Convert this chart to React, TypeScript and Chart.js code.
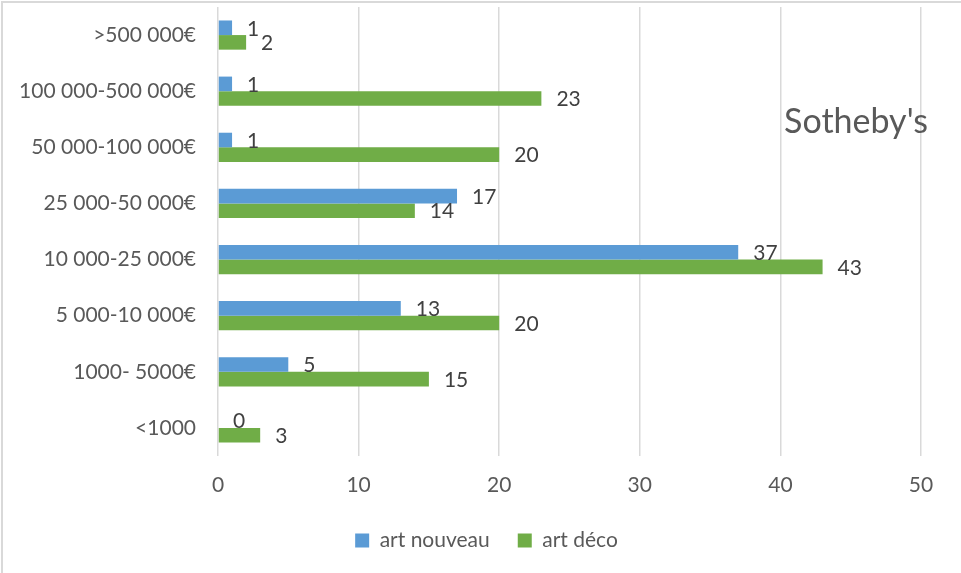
import React, { useEffect, useRef } from "react";
import { Chart, registerables } from "chart.js";

Chart.register(...registerables);

const categories = [
  ">500 000€",
  "100 000-500 000€",
  "50 000-100 000€",
  "25 000-50 000€",
  "10 000-25 000€",
  "5 000-10 000€",
  "1000- 5000€",
  "<1000",
];
const artNouveau = [1, 1, 1, 17, 37, 13, 5, 0];
const artDeco = [2, 23, 20, 14, 43, 20, 15, 3];
const seriesNames = ["art nouveau", "art déco"];
const seriesColors = ["#5B9BD5", "#70AD47"];
const xMin = 0;
const xMax = 50;
const xStep = 10;
const chartTitle = "Sotheby's";

const FONT = "Lato";

const dataLabelPlugin = {
  id: "dataLabels",
  afterDatasetsDraw(chart: any) {
    const ctx = chart.ctx;
    ctx.save();
    ctx.font = `21px ${FONT}`;
    ctx.fillStyle = "#404040";
    ctx.textAlign = "left";
    ctx.textBaseline = "middle";
    chart.data.datasets.forEach((ds: any, i: number) => {
      const meta = chart.getDatasetMeta(i);
      meta.data.forEach((el: any, j: number) => {
        ctx.fillText(String(ds.data[j]), el.x + 15, el.y + 1);
      });
    });
    ctx.restore();
  },
};

const titlePlugin = {
  id: "innerTitle",
  afterDraw(chart: any) {
    const ctx = chart.ctx;
    const a = chart.chartArea;
    ctx.save();
    ctx.font = `34px ${FONT}`;
    ctx.fillStyle = "#595959";
    ctx.textAlign = "right";
    ctx.textBaseline = "alphabetic";
    ctx.fillText(chartTitle, a.right + 7, a.top + 126);
    ctx.restore();
  },
};

// center the legend under the plot area like the original (shift right)
const legendShiftPlugin = {
  id: "legendShift",
  afterLayout(chart: any) {
    const lg = chart.legend;
    if (lg) {
      lg.left += 26;
      lg.right += 26;
    }
  },
};

export default function App() {
  const ref = useRef<HTMLCanvasElement>(null);
  useEffect(() => {
    document.body.style.margin = "0";
    const chart = new Chart(ref.current as HTMLCanvasElement, {
      type: "bar",
      data: {
        labels: categories,
        datasets: [
          { label: seriesNames[0], data: artNouveau, backgroundColor: seriesColors[0] },
          { label: seriesNames[1], data: artDeco, backgroundColor: seriesColors[1] },
        ],
      },
      options: {
        indexAxis: "y",
        animation: false,
        responsive: false,
        devicePixelRatio: 1,
        datasets: { bar: { categoryPercentage: 0.52, barPercentage: 1 } },
        layout: { padding: { top: 7, right: 40, left: 0, bottom: 12 } },
        scales: {
          x: {
            min: xMin,
            max: xMax,
            afterFit: (s: any) => {
              s.height = 46;
            },
            ticks: { stepSize: xStep, padding: 17, color: "#595959", font: { family: FONT, size: 21 } },
            grid: { color: "#d9d9d9", lineWidth: 1.5, drawTicks: false },
            border: { display: false },
          },
          y: {
            afterFit: (s: any) => {
              s.width = 218;
              s.paddingTop = 0;
              s.paddingBottom = 0;
            },
            ticks: { padding: 22, color: "#595959", font: { family: FONT, size: 21 } },
            grid: { display: false, drawTicks: false },
            border: { display: false },
          },
        },
        plugins: {
          legend: {
            position: "bottom",
            labels: {
              boxWidth: 14,
              boxHeight: 14,
              padding: 28,
              color: "#595959",
              font: { family: FONT, size: 21 },
            },
          },
          tooltip: { enabled: false },
          title: { display: false },
        },
      },
      plugins: [dataLabelPlugin, titlePlugin, legendShiftPlugin],
    });
    return () => chart.destroy();
  }, []);
  return (
    <div style={{ position: "relative", width: 961, height: 573, overflow: "hidden", background: "#fff" }}>
      <canvas ref={ref} width={961} height={573} style={{ display: "block" }} />
      <div
        style={{
          position: "absolute",
          top: 1,
          left: 1,
          right: -10,
          bottom: -10,
          borderTop: "2px solid #d9d9d9",
          borderLeft: "2px solid #d9d9d9",
          pointerEvents: "none",
        }}
      />
    </div>
  );
}
